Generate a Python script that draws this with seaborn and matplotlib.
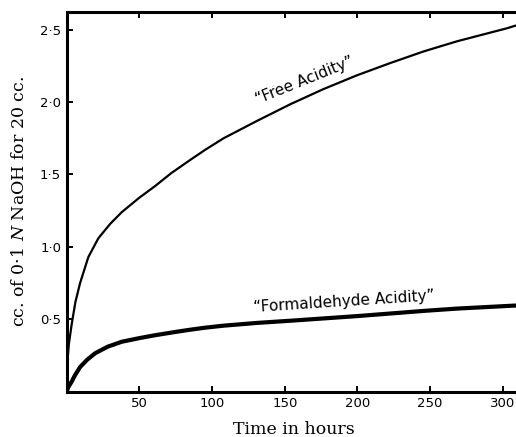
import matplotlib
matplotlib.use("Agg")
import matplotlib.pyplot as plt
import seaborn as sns
import pandas as pd

# ---- data ----
free_x = [0, 0.6, 1.5, 3.5, 6, 9.2, 14.9, 21.8, 30, 37.9, 50, 60.8, 72, 84.9, 95.2,
          107.9, 130.9, 153.8, 176.7, 199.7, 222.7, 245.6, 268.6, 291.5, 303, 311]
free_y = [0, 0.22, 0.33, 0.47, 0.62, 0.75, 0.93, 1.06, 1.16, 1.24, 1.34, 1.42, 1.51, 1.60, 1.67,
          1.75, 1.87, 1.985, 2.09, 2.185, 2.27, 2.35, 2.42, 2.48, 2.51, 2.535]

form_x = [0, 1, 3.4, 5.5, 9.2, 14, 19.5, 28, 37.9, 50, 60.8, 75, 84.9, 95.2, 107.9,
          130.9, 153.8, 176.7, 199.7, 222.7, 245.6, 268.6, 303, 311]
form_y = [0, 0.03, 0.069, 0.11, 0.17, 0.22, 0.265, 0.31, 0.345, 0.37, 0.39, 0.413, 0.428, 0.442, 0.456,
          0.475, 0.49, 0.506, 0.522, 0.54, 0.558, 0.574, 0.592, 0.596]

x_ticks = [50, 100, 150, 200, 250, 300]
y_ticks = [0.5, 1.0, 1.5, 2.0, 2.5]
y_tick_labels = ["0·5", "1·0", "1·5", "2·0", "2·5"]

free_label = "\u201cFree Acidity\u201d"
form_label = "\u201cFormaldehyde Acidity\u201d"
x_label = "Time in hours"
y_label = "cc. of 0·1 $N$ NaOH for 20 cc."

sns.set_style("ticks")
plt.rcParams["mathtext.fontset"] = "dejavuserif"
plt.rcParams["font.family"] = ["DejaVu Sans"]
plt.rcParams["text.color"] = "black"
plt.rcParams["axes.labelcolor"] = "black"
plt.rcParams["xtick.color"] = "black"
plt.rcParams["ytick.color"] = "black"

fig = plt.figure(figsize=(5.16, 4.37), dpi=100)
ax = fig.add_axes([66.7 / 516, 1 - 391.7 / 437, 455 / 516, 379.4 / 437])

df_free = pd.DataFrame({"x": free_x, "y": free_y})
df_form = pd.DataFrame({"x": form_x, "y": form_y})
sns.lineplot(data=df_free, x="x", y="y", ax=ax, color="black", linewidth=1.6,
             sort=False, estimator=None)
sns.lineplot(data=df_form, x="x", y="y", ax=ax, color="black", linewidth=3.0,
             sort=False, estimator=None)

ax.set_xlim(0, 313)
ax.set_ylim(0, 2.62)
ax.set_xticks(x_ticks)
ax.set_xticklabels([str(v) for v in x_ticks])
ax.set_yticks(y_ticks)
ax.set_yticklabels(y_tick_labels)

for s in ax.spines.values():
    s.set_linewidth(2.2)
    s.set_color("black")
    s.set_visible(True)

ax.tick_params(direction="in", length=4.5, width=1.4, top=True, right=True,
               labelsize=9.5, pad=4, colors="black")

ax.set_xlabel(x_label, family="DejaVu Serif", fontsize=12.5, labelpad=8, color="black")
ax.set_ylabel(y_label, family="DejaVu Serif", fontsize=12.5, labelpad=9, color="black")

ax.text(164, 2.15, free_label, rotation=22, ha="center", va="center", fontsize=11,
        rotation_mode="anchor", color="black")
ax.text(191, 0.625, form_label, rotation=3.7, ha="center", va="center", fontsize=11,
        rotation_mode="anchor", color="black")

fig.savefig("out.png", dpi=100)
